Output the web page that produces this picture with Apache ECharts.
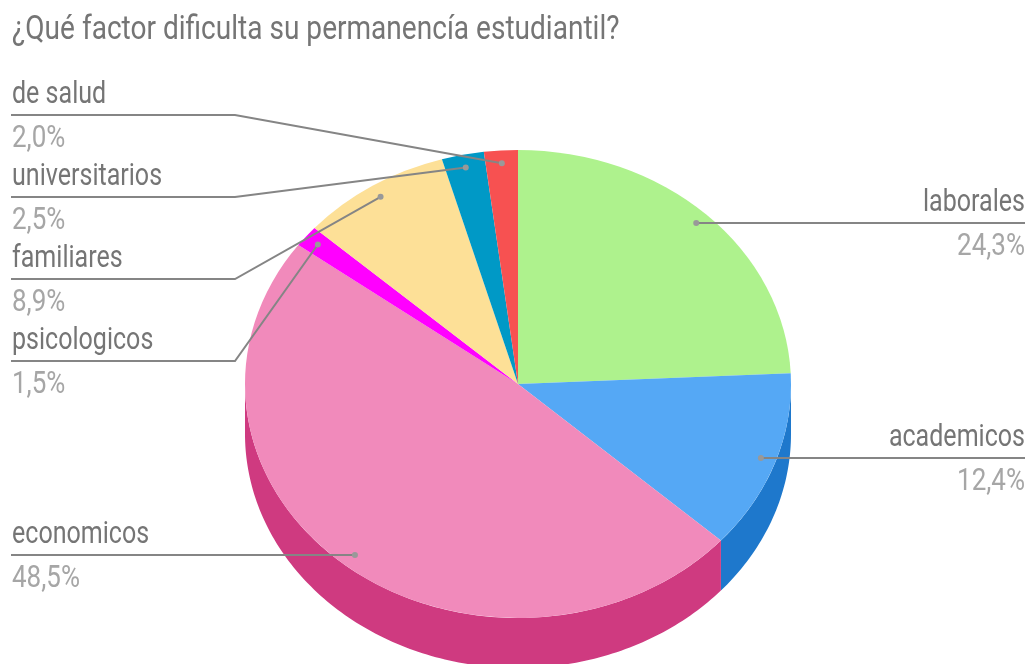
<!DOCTYPE html>
<html>
<head>
<meta charset="utf-8">
<title>Permanencia estudiantil</title>
<script src="https://cdn.jsdelivr.net/npm/echarts@6/dist/echarts.min.js"></script>
<style>
  html, body { margin: 0; padding: 0; background: #fff; }
  #main { width: 1029px; height: 664px; }
</style>
</head>
<body>
<div id="main"></div>
<script>
// data, clockwise from 12 o'clock
const categories = ['laborales', 'academicos', 'economicos', 'psicologicos', 'familiares', 'universitarios', 'de salud']
const values = [24.3, 12.4, 48.5, 1.5, 8.9, 2.5, 2.0]
const chartTitle = '¿Qué factor dificulta su permanencía estudiantil?'

// colours
const topColors = ['#aef28d', '#55a8f5', '#f18abb', '#ff00ff', '#fde097', '#0099c6', '#f75151']
const wallColors = ['#7fc060', '#1e78cc', '#cf3a80', '#c000c0', '#c9a860', '#007090', '#c03030']
const nameColor = '#757575'
const percentColor = '#a6a6a6'
const leaderColor = '#858585'

// layout of the fake 3d pie
const cx = 518, cy = 384, rx = 273, ry = 234, depth = 50
const anchorRatio = 0.945
const fontSize = 31.5, nameScaleX = 0.795, percentScaleX = 0.825
// y of the horizontal part of every leader
const leaderY = { 'laborales': 223, 'academicos': 458, 'economicos': 555, 'psicologicos': 361, 'familiares': 279, 'universitarios': 197, 'de salud': 115 }
const rightLabels = ['laborales', 'academicos']
const leftX = 11, rightX = 1025, elbowX = 235, textLeftX = 12

// slice angles in turns
const total = values.reduce((a, b) => a + b, 0)
const turns = []
let acc = 0
values.forEach(v => {
  turns.push([acc / total, (acc + v) / total])
  acc += v
})

const rad = t => t * Math.PI * 2
const edgePoint = (t, ratio, dy) => [
  cx + rx * ratio * Math.sin(rad(t)),
  cy - ry * ratio * Math.cos(rad(t)) + dy
]
const percentText = v => v.toFixed(1).replace('.', ',') + '%'

function textEl(text, x, y, align, color, scaleX) {
  return {
    type: 'text',
    x: x,
    y: y,
    scaleX: scaleX,
    style: {
      text: text,
      x: 0,
      y: 0,
      align: align,
      verticalAlign: 'bottom',
      fill: color,
      font: fontSize + 'px Roboto'
    }
  }
}

function renderWall(params) {
  const i = params.dataIndex
  const start = Math.max(turns[i][0], 0.25)
  const end = Math.min(turns[i][1], 0.75)
  if (end <= start) return { type: 'group', children: [] }
  const upper = []
  const lower = []
  const steps = Math.ceil((end - start) * 360)
  for (let s = 0; s <= steps; s++) {
    const t = start + (end - start) * s / steps
    upper.push(edgePoint(t, 1, 0))
    lower.unshift(edgePoint(t, 1, depth))
  }
  return {
    type: 'polygon',
    shape: { points: upper.concat(lower) },
    style: { fill: wallColors[i] }
  }
}

function renderTop(params) {
  const i = params.dataIndex
  return {
    type: 'sector',
    x: cx,
    y: cy,
    scaleY: ry / rx,
    shape: {
      cx: 0,
      cy: 0,
      r0: 0,
      r: rx,
      startAngle: rad(turns[i][0]) - Math.PI / 2,
      endAngle: rad(turns[i][1]) - Math.PI / 2,
      clockwise: true
    },
    style: { fill: topColors[i] }
  }
}

function renderLabel(params) {
  const i = params.dataIndex
  const name = categories[i]
  const anchor = edgePoint((turns[i][0] + turns[i][1]) / 2, anchorRatio, 0)
  const y = leaderY[name]
  const isRight = rightLabels.includes(name)
  const endX = isRight ? rightX : leftX
  const textX = isRight ? rightX : textLeftX
  const align = isRight ? 'right' : 'left'
  const straight = Math.abs(y - anchor[1]) < 3
  const points = straight
    ? [[endX, y], [anchor[0], y]]
    : [[endX, y], [elbowX, y], anchor]
  return {
    type: 'group',
    children: [
      {
        type: 'polyline',
        shape: { points: points },
        style: { stroke: leaderColor, lineWidth: 2, fill: null }
      },
      {
        type: 'circle',
        shape: { cx: anchor[0], cy: straight ? y : anchor[1], r: 3 },
        style: { fill: '#999999' }
      },
      textEl(name, textX, y - 4, align, nameColor, nameScaleX),
      textEl(percentText(values[i]), textX, y + 40, align, percentColor, percentScaleX)
    ]
  }
}

const seriesData = categories.map((name, i) => ({ name: name, value: values[i] }))

const chart = echarts.init(document.getElementById('main'))
chart.setOption({
  animation: false,
  backgroundColor: '#ffffff',
  graphic: [{
    type: 'text',
    x: 12,
    y: 47,
    scaleX: 0.85,
    style: {
      text: chartTitle,
      align: 'left',
      verticalAlign: 'bottom',
      fill: nameColor,
      font: '33px Roboto'
    }
  }],
  series: [
    { type: 'custom', coordinateSystem: 'none', silent: true, z: 1, data: seriesData, renderItem: renderWall },
    { type: 'custom', coordinateSystem: 'none', silent: true, z: 2, data: seriesData, renderItem: renderTop },
    { type: 'custom', coordinateSystem: 'none', silent: true, z: 3, data: seriesData, renderItem: renderLabel }
  ]
})
</script>
</body>
</html>
